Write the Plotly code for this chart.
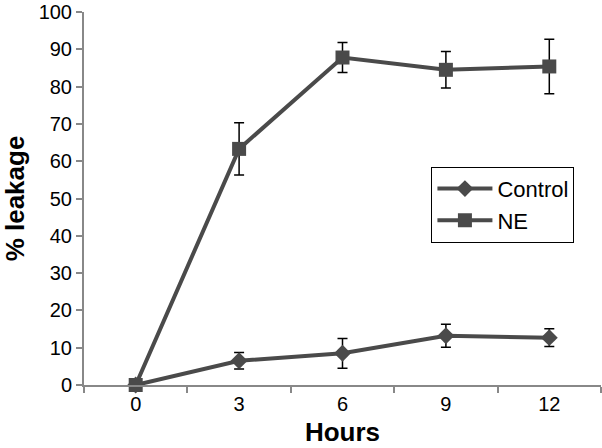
import plotly.graph_objects as go

hours = ["0", "3", "6", "9", "12"]
control = [0, 6.5, 8.5, 13.2, 12.7]
control_err = [0, 2.2, 4.0, 3.1, 2.4]
ne = [0, 63.3, 87.8, 84.5, 85.4]
ne_err = [0, 7.0, 4.0, 4.9, 7.3]

line_color = "#4a4a4a"

fig = go.Figure()
fig.add_trace(go.Scatter(
    x=hours, y=control, name="Control", mode="lines+markers",
    line=dict(color=line_color, width=4),
    marker=dict(symbol="diamond", size=13, color=line_color),
    error_y=dict(type="data", array=control_err, visible=True, color="black", thickness=1.5, width=5),
    cliponaxis=False,
))
fig.add_trace(go.Scatter(
    x=hours, y=ne, name="NE", mode="lines+markers",
    line=dict(color=line_color, width=4),
    marker=dict(symbol="square", size=14, color=line_color),
    error_y=dict(type="data", array=ne_err, visible=True, color="black", thickness=1.5, width=5),
    cliponaxis=False,
))

fig.update_layout(
    width=602, height=448,
    margin=dict(l=84, r=1, t=12, b=63, autoexpand=False),
    paper_bgcolor="white", plot_bgcolor="white",
    font=dict(family="Liberation Sans, Arial", color="black", size=20),
    showlegend=True,
    legend=dict(
        x=0.672, y=0.585, xanchor="left", yanchor="top",
        bordercolor="black", borderwidth=1, bgcolor="white",
        font=dict(size=22), itemwidth=55, tracegroupgap=0,
    ),
    xaxis=dict(
        type="category", range=[-0.5, 4.5], automargin=False,
        showline=True, linecolor="#888888", linewidth=2,
        ticks="outside", tickson="boundaries", ticklen=6, tickcolor="#888888", tickwidth=2,
        showgrid=False, zeroline=False,
        title=dict(text="<b>Hours</b>", font=dict(size=26), standoff=9),
        tickfont=dict(size=20),
    ),
    yaxis=dict(
        range=[0, 100], dtick=10, automargin=False,
        showline=True, linecolor="#888888", linewidth=2,
        ticks="outside", ticklen=6, tickcolor="#888888", tickwidth=2,
        showgrid=False, zeroline=False, ticklabeloverflow="allow",
        title=dict(text="<b>% leakage</b>", font=dict(size=26), standoff=19),
        tickfont=dict(size=20),
    ),
)

fig.write_html(
    "out.html",
    config={"displayModeBar": False},
    post_script="document.body.style.margin='0';document.body.style.overflow='hidden';",
)
